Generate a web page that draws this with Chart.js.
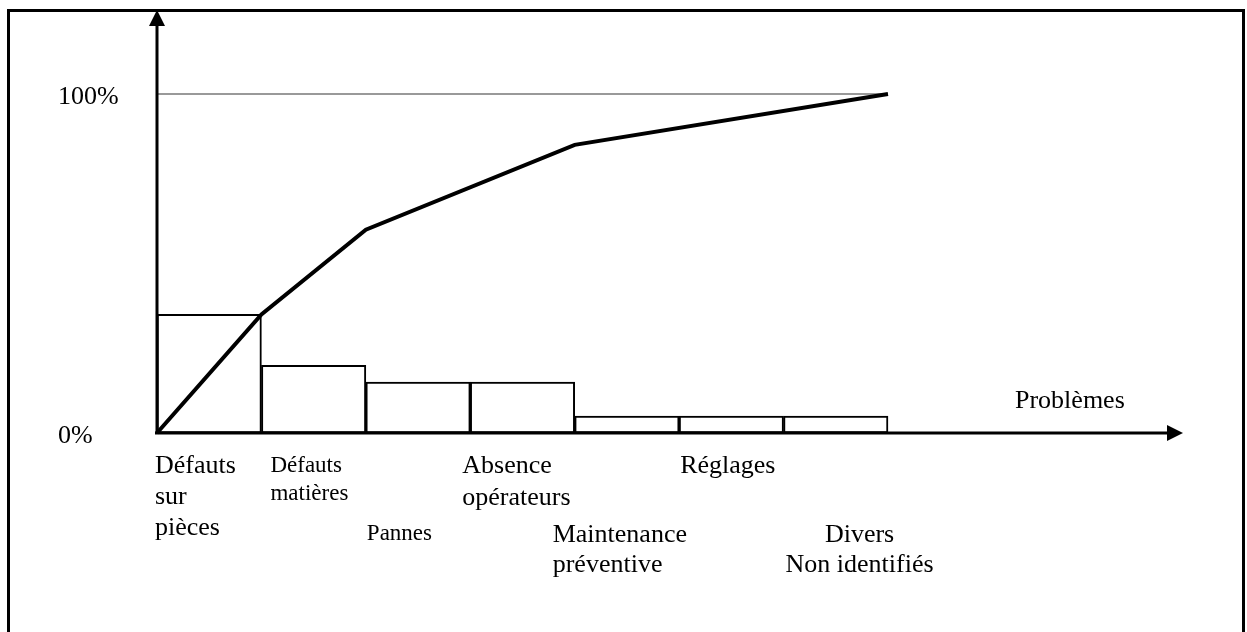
<!DOCTYPE html>
<html>
<head>
<meta charset="utf-8">
<script src="https://cdn.jsdelivr.net/npm/chart.js@4.4.0/dist/chart.umd.min.js"></script>
<style>
html, body { margin: 0; padding: 0; background: #fff; overflow: hidden; }
#wrap { position: relative; width: 1247px; height: 632px; }
#frame { position: absolute; left: 7px; top: 9px; width: 1232px; height: 700px; border: 3px solid #000; border-bottom: none; pointer-events: none; }
canvas { position: absolute; left: 0; top: 0; }
</style>
</head>
<body>
<div id="wrap">
  <canvas id="chart" width="1247" height="632"></canvas>
  <div id="frame"></div>
</div>
<script>
// problèmes, du plus fréquent au moins fréquent
var categories = [
  ['Défauts', 'sur', 'pièces'],
  ['Défauts', 'matières'],
  ['Pannes'],
  ['Absence', 'opérateurs'],
  ['Maintenance', 'préventive'],
  ['Réglages'],
  ['Divers', 'Non identifiés']
];
var share = [35, 20, 15, 15, 5, 5, 5];   // part de chaque problème (%)

// courbe cumulée : sommets
var cumX = [0, 1, 2, 4, 7];
var cumY = [0, 35, 60, 85, 100];

var yTicks = [0, 100];
var yTickLabels = ['0%', '100%'];
var xTitle = 'Problèmes';

// placement des étiquettes sous l'axe (dx depuis le bord gauche de la barre, lignes de base sous l'axe)
var labelPos = [
  { dx: -2, base: [40, 71, 102], size: 26, align: 'left' },
  { dx: 9, base: [39, 67], size: 23, align: 'left' },
  { dx: 1, base: [107], size: 23, align: 'left' },
  { dx: -8, base: [40, 72], size: 26, align: 'left' },
  { dx: -22, base: [109, 139], size: 26, align: 'left' },
  { dx: 1, base: [40], size: 26, align: 'left' },
  { dx: 76, base: [109, 139], size: 26, align: 'center' }
];

var serif = '"Liberation Serif", "Times New Roman", serif';

var deco = {
  id: 'deco',
  afterDraw: function(chart) {
    var ctx = chart.ctx, a = chart.chartArea;
    var x = chart.scales.x, y = chart.scales.y;
    var x0 = x.getPixelForValue(0), y0 = y.getPixelForValue(0);
    ctx.save();
    ctx.strokeStyle = '#000';
    ctx.fillStyle = '#000';
    ctx.lineWidth = 3;

    // axe vertical + flèche
    ctx.beginPath();
    ctx.moveTo(x0, y0 + 1);
    ctx.lineTo(x0, a.top + 14);
    ctx.stroke();
    ctx.beginPath();
    ctx.moveTo(x0, a.top);
    ctx.lineTo(x0 - 8, a.top + 16);
    ctx.lineTo(x0 + 8, a.top + 16);
    ctx.closePath();
    ctx.fill();

    // axe horizontal + flèche
    ctx.beginPath();
    ctx.moveTo(x0 - 2, y0);
    ctx.lineTo(a.right - 14, y0);
    ctx.stroke();
    ctx.beginPath();
    ctx.moveTo(a.right, y0);
    ctx.lineTo(a.right - 16, y0 - 8);
    ctx.lineTo(a.right - 16, y0 + 8);
    ctx.closePath();
    ctx.fill();

    // graduations
    ctx.font = '26px ' + serif;
    ctx.textAlign = 'left';
    ctx.textBaseline = 'alphabetic';
    yTicks.forEach(function(v, i) {
      ctx.fillText(yTickLabels[i], x0 - 99, y.getPixelForValue(v) + 10);
    });
    ctx.fillText(xTitle, a.right - 168, y0 - 25);

    // noms des problèmes
    categories.forEach(function(lines, i) {
      var p = labelPos[i];
      ctx.font = p.size + 'px ' + serif;
      ctx.textAlign = p.align;
      var lx = x.getPixelForValue(i) + p.dx;
      lines.forEach(function(t, j) {
        ctx.fillText(t, lx, y0 + p.base[j]);
      });
    });
    ctx.restore();
  }
};

var ctx = document.getElementById('chart').getContext('2d');
var chart = new Chart(ctx, {
  type: 'bar',
  data: {
    datasets: [{
      type: 'line',
      data: cumX.map(function(v, i) { return { x: v, y: cumY[i] }; }),
      borderColor: '#000',
      borderWidth: 4,
      pointRadius: 0,
      tension: 0,
      fill: false,
      clip: false,
      order: 0
    }, {
      type: 'line',
      data: [{ x: cumX[0], y: 100 }, { x: cumX[cumX.length - 1], y: 100 }],
      borderColor: '#777',
      borderWidth: 1.5,
      pointRadius: 0,
      fill: false,
      clip: false,
      order: 1
    }, {
      type: 'bar',
      data: share.map(function(v, i) { return { x: i + 0.5, y: v }; }),
      backgroundColor: '#fff',
      borderColor: '#000',
      borderWidth: 2,
      borderSkipped: false,
      barPercentage: 1,
      categoryPercentage: 1,
      clip: false,
      order: 2
    }]
  },
  options: {
    responsive: false,
    animation: false,
    devicePixelRatio: 1,
    layout: { padding: { left: 157, right: 64, top: 10, bottom: 199 } },
    plugins: { legend: { display: false }, tooltip: { enabled: false } },
    scales: {
      x: {
        type: 'linear', display: false, offset: false,
        min: 0, max: 9.825,
        ticks: { stepSize: 1, includeBounds: false }
      },
      y: { display: false, min: 0, max: 124.8 }
    }
  },
  plugins: [deco]
});
</script>
</body>
</html>
